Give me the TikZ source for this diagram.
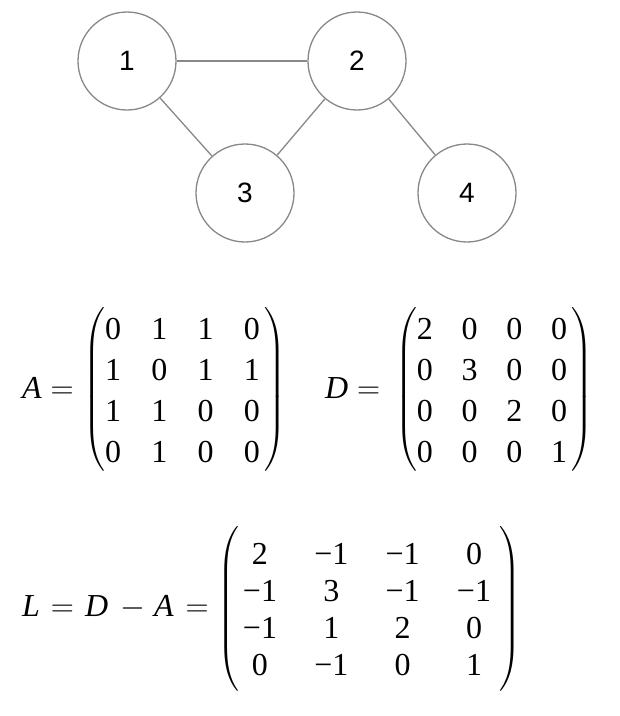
\RequirePackage{fix-cm}
\documentclass[tikz,border=0pt]{standalone}
\usepackage{exscale}
\usepackage{fontspec}
\setmainfont{Liberation Serif}
\setsansfont{Liberation Sans}
\usetikzlibrary{matrix}
\definecolor{edgegray}{RGB}{136,136,136}
\begin{document}
\begin{tikzpicture}[x=1pt,y=-1pt,
  font=\fontsize{32}{38}\selectfont,
  vert/.style={circle, draw=edgegray, line width=1.3pt, minimum size=98pt, inner sep=0pt,
    font=\sffamily\fontsize{28}{32}\selectfont},
  edge/.style={draw=edgegray, line width=1.3pt},
  cellstyle/.style={inner sep=0pt, text height=22pt, text depth=0pt, anchor=center},
  mat/.style={matrix of nodes, nodes={cellstyle}, inner xsep=3pt,
    left delimiter=(, right delimiter=)},
  every left delimiter/.style={xshift=4.5pt},
  eqlabel/.style={anchor=base west, inner sep=0pt}
]
\useasboundingbox (0,0) rectangle (620,716);
% graph
\node[vert] (n1) at (127,61) {1};
\node[vert] (n2) at (357,61) {2};
\node[vert] (n3) at (245,193) {3};
\node[vert] (n4) at (467,193) {4};
\draw[edge] (n1) -- (n2);
\draw[edge] (n1) -- (n3);
\draw[edge] (n2) -- (n3);
\draw[edge] (n2) -- (n4);
% A and D
\node[eqlabel] (Alab) at (22,398) {$\textit{A} =$};
\matrix[mat, column sep=30.3pt, row sep=19pt, inner ysep=11pt] (MA) at (182.5,389.5) {
0 & 1 & 1 & 0 \\
1 & 0 & 1 & 1 \\
1 & 1 & 0 & 0 \\
0 & 1 & 0 & 0 \\
};
\node[eqlabel] (Dlab) at (325,398) {$\textit{D} =$};
\matrix[mat, column sep=28.7pt, row sep=19pt, inner ysep=11pt] (MD) at (492,389.5) {
2 & 0 & 0 & 0 \\
0 & 3 & 0 & 0 \\
0 & 0 & 2 & 0 \\
0 & 0 & 0 & 1 \\
};
% L
\node[eqlabel] (Llab) at (22,616) {\textit{L}\hspace{11pt}$=$\hspace{11pt}\textit{D}\hspace{12pt}$-$\hspace{9pt}\textit{A}\hspace{12pt}$=$};
\matrix[mat, column sep=37.3pt, row sep=15.3pt, inner ysep=16.5pt, inner xsep=7pt] (ML) at (367,609) {
2 & −1 & −1 & 0 \\
−1 & 3 & −1 & −1 \\
−1 & 1 & 2 & 0 \\
0 & −1 & 0 & 1 \\
};
\end{tikzpicture}
\end{document}
